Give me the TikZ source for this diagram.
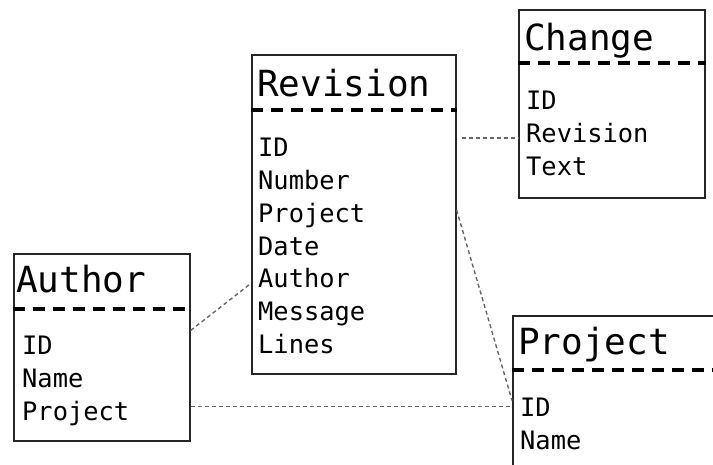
\documentclass[tikz,border=0pt]{standalone}
\usepackage{fontspec}
\setmonofont{DejaVu Sans Mono}
\usepackage{tikz}

\begin{document}
\begin{tikzpicture}[x=1pt,y=-1pt,
    box/.style={draw=black!85,line width=1.6pt,anchor=north west,inner sep=0pt},
    title/.style={anchor=base west,inner sep=0pt,font=\ttfamily\fontsize{36}{40}\selectfont},
    field/.style={anchor=base west,inner sep=0pt,text height=20pt,text depth=3pt,font=\ttfamily\fontsize{25.4}{30}\selectfont},
    sep/.style={line width=4pt,dash pattern=on 12pt off 8pt},
    link/.style={draw=black!60,line width=1.4pt,dash pattern=on 4pt off 3pt}]
    \clip (0,0) rectangle (713,465);

    % Revision table
    \node [box,minimum width=204pt,minimum height=319pt] (revision) at (251,54) {};
    \node [title] (revision-title) at ([shift={(6,43)}]revision.north west) {Revision};
    \draw [sep] ([yshift=-56pt]revision.north west) -- ([yshift=-56pt]revision.north east);
    \foreach \f [count=\i] in {ID,Number,Project,Date,Author,Message,Lines}
        \node [field] (rev-\i) at ([shift={(7,{103+32.7*(\i-1)})}]revision.north west) {\f};

    % Change table
    \node [box,minimum width=186pt,minimum height=188pt] (change) at (518,9) {};
    \node [title] (change-title) at ([shift={(6,42)}]change.north west) {Change};
    \draw [sep] ([yshift=-54pt]change.north west) -- ([yshift=-54pt]change.north east);
    \foreach \f [count=\i] in {ID,Revision,Text}
        \node [field] (chg-\i) at ([shift={(8,{101+32.7*(\i-1)})}]change.north west) {\f};

    % Author table
    \node [box,minimum width=176pt,minimum height=187pt] (author) at (13,253) {};
    \node [title] (author-title) at ([shift={(3,40)}]author.north west) {Author};
    \draw [sep] ([yshift=-56pt]author.north west) -- ([yshift=-56pt]author.north east);
    \foreach \f [count=\i] in {ID,Name,Project}
        \node [field] (aut-\i) at ([shift={(9,{102+32.7*(\i-1)})}]author.north west) {\f};

    % Project table
    \node [box,minimum width=220pt,minimum height=200pt] (project) at (512,315) {};
    \node [title] (project-title) at ([shift={(6,40)}]project.north west) {Project};
    \draw [sep] ([yshift=-55pt]project.north west) -- ([yshift=-55pt]project.north east);
    \foreach \f [count=\i] in {ID,Name}
        \node [field] (prj-\i) at ([shift={(8,{102+32.7*(\i-1)})}]project.north west) {\f};

    % links between the tables
    \draw [link,shorten <=5pt] ([yshift=-4pt]revision.east |- chg-2) -- ([yshift=-4pt]change.west |- chg-2);
    \draw [link] ([yshift=16pt]author.east |- aut-1) -- ([yshift=-4pt]revision.west |- rev-5);
    \draw [link] ([yshift=4pt]revision.east |- rev-3) -- ([yshift=8pt]project.west |- prj-1);
    \draw [link] ([yshift=2pt]author.east |- prj-1) -- ([yshift=2pt]project.west |- prj-1);
\end{tikzpicture}
\end{document}
